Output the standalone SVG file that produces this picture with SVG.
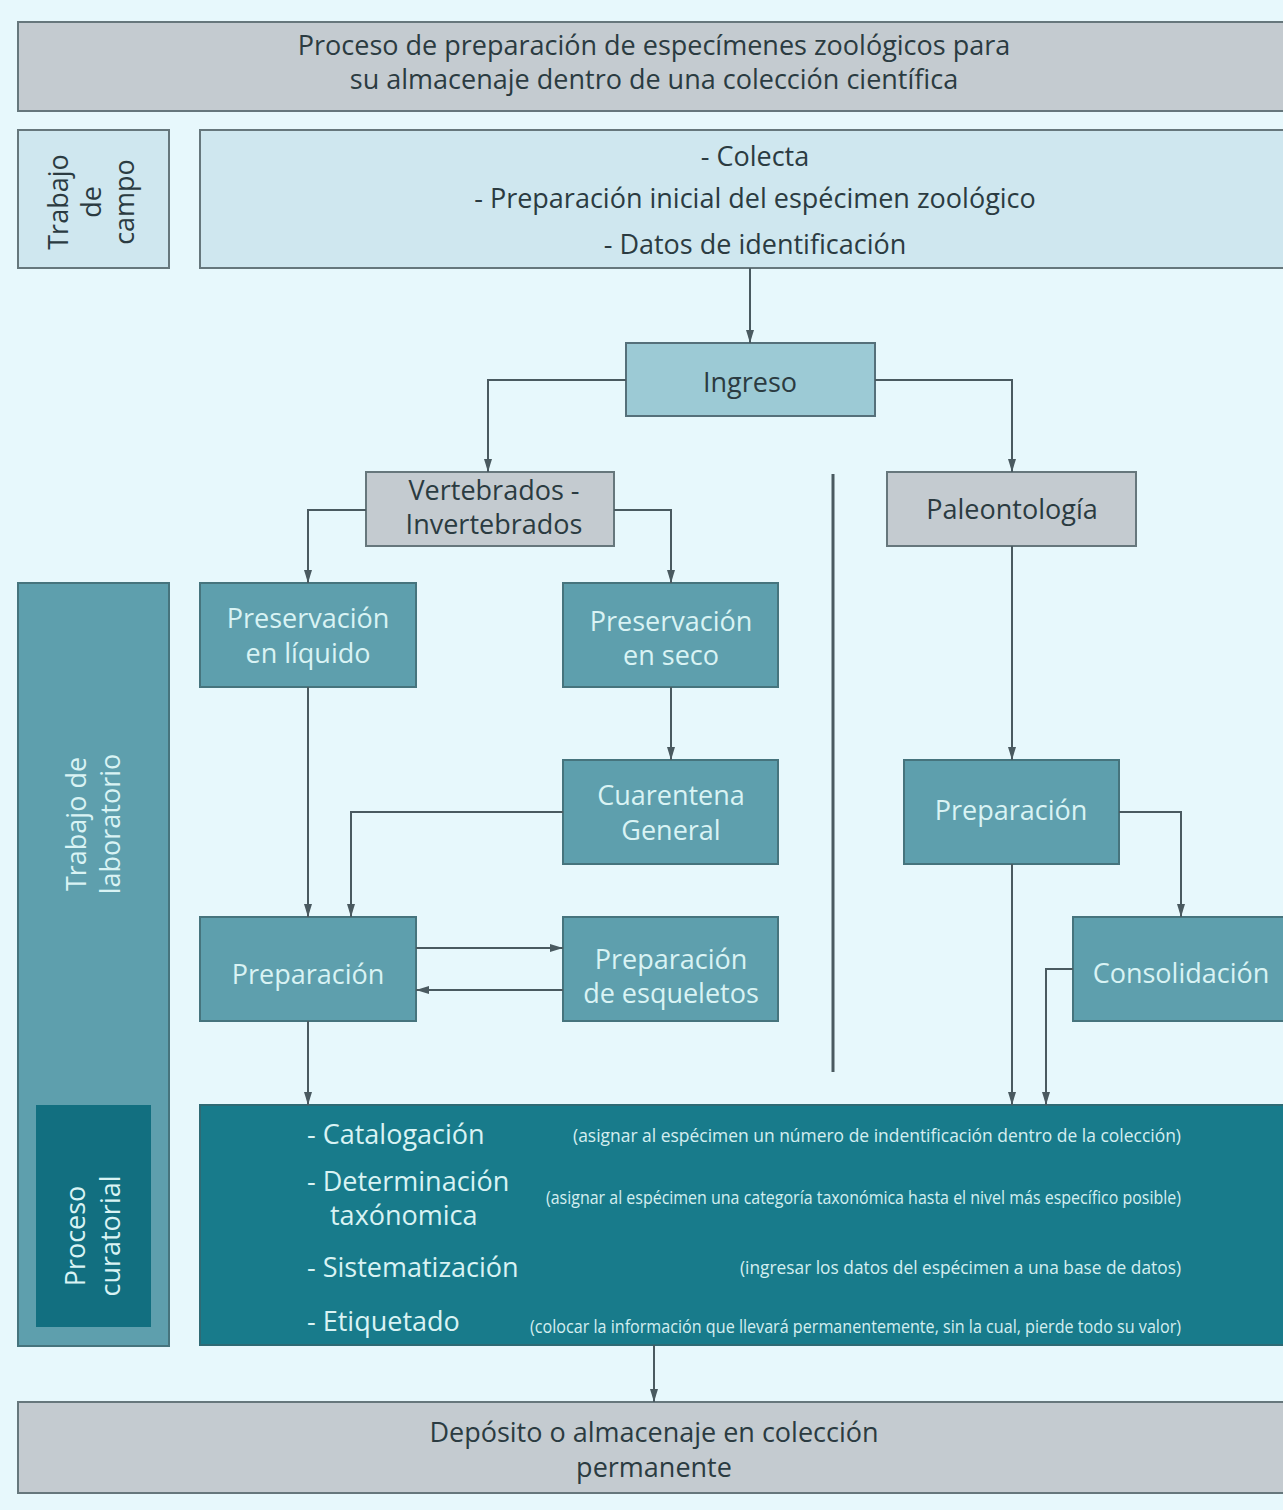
<svg xmlns="http://www.w3.org/2000/svg" width="1283" height="1510" viewBox="0 0 1283 1510">
  <defs>
    <marker id="arrow" markerUnits="userSpaceOnUse" markerWidth="14" markerHeight="10" refX="13" refY="4" orient="auto">
      <path d="M0,0 L13,4 L0,8 z" fill="#4a5a60"/>
    </marker>
    <style>
      text { font-family: "Open Sans", "Noto Sans", "Liberation Sans", sans-serif; font-size: 27px; }
      .gray { fill: #c4cbd0; stroke: #66777c; stroke-width: 2; }
      .pale { fill: #cfe7ef; stroke: #66777c; stroke-width: 2; }
      .ingreso { fill: #9ccad5; stroke: #55707a; stroke-width: 2; }
      .mid { fill: #5e9fad; stroke: #46747d; stroke-width: 2; }
      .deep { fill: #187b8b; stroke: #2f6a74; stroke-width: 2; }
      .deeper { fill: #126f80; }
      .dark { fill: #2b3b41; }
      .light { fill: #d9f3f4; }
      .c { text-anchor: middle; }
      .desc { font-size: 18px; fill: #d4eef0; text-anchor: end; }
      .link { fill: none; stroke: #4a5a60; stroke-width: 2; }
    </style>
  </defs>

  <rect x="0" y="0" width="1283" height="1510" fill="#e7f8fc"/>

  <!-- heading -->
  <g id="title">
    <rect class="gray" x="18" y="22" width="1275" height="89"/>
    <text class="dark c" x="654" y="55">Proceso de preparación de especímenes zoológicos para</text>
    <text class="dark c" x="654" y="89">su almacenaje dentro de una colección científica</text>
  </g>

  <!-- field work -->
  <g id="lane-campo">
    <rect class="pale" x="18" y="130" width="151" height="138"/>
    <g transform="translate(94,202) rotate(-90)">
      <text class="dark c" x="0" y="-26">Trabajo</text>
      <text class="dark c" x="0" y="7">de</text>
      <text class="dark c" x="0" y="40">campo</text>
    </g>
  </g>
  <g id="campo">
    <rect class="pale" x="200" y="130" width="1093" height="138"/>
    <text class="dark c" x="755" y="166">- Colecta</text>
    <text class="dark c" x="755" y="208">- Preparación inicial del espécimen zoológico</text>
    <text class="dark c" x="755" y="254">- Datos de identificación</text>
  </g>

  <!-- laboratory lane -->
  <g id="lane-laboratorio">
    <rect class="mid" x="18" y="583" width="151" height="763"/>
    <g transform="translate(94,824) rotate(-90)">
      <text class="light c" x="0" y="-8">Trabajo de</text>
      <text class="light c" x="0" y="26">laboratorio</text>
    </g>
  </g>
  <g id="lane-curatorial">
    <rect class="deeper" x="36" y="1105" width="115" height="222"/>
    <g transform="translate(94,1236) rotate(-90)">
      <text class="light c" x="0" y="-9">Proceso</text>
      <text class="light c" x="0" y="26">curatorial</text>
    </g>
  </g>

  <g id="ingreso">
    <rect class="ingreso" x="626" y="343" width="249" height="73"/>
    <text class="dark c" x="750" y="392">Ingreso</text>
  </g>
  <g id="vertebrados">
    <rect class="gray" x="366" y="472" width="248" height="74"/>
    <text class="dark c" x="494" y="500">Vertebrados -</text>
    <text class="dark c" x="494" y="534">Invertebrados</text>
  </g>
  <g id="paleontologia">
    <rect class="gray" x="887" y="472" width="249" height="74"/>
    <text class="dark c" x="1012" y="519">Paleontología</text>
  </g>
  <g id="pres-liquido">
    <rect class="mid" x="200" y="583" width="216" height="104"/>
    <text class="light c" x="308" y="628">Preservación</text>
    <text class="light c" x="308" y="663">en líquido</text>
  </g>
  <g id="pres-seco">
    <rect class="mid" x="563" y="583" width="215" height="104"/>
    <text class="light c" x="671" y="631">Preservación</text>
    <text class="light c" x="671" y="665">en seco</text>
  </g>
  <g id="cuarentena">
    <rect class="mid" x="563" y="760" width="215" height="104"/>
    <text class="light c" x="671" y="805">Cuarentena</text>
    <text class="light c" x="671" y="840">General</text>
  </g>
  <g id="preparacion">
    <rect class="mid" x="200" y="917" width="216" height="104"/>
    <text class="light c" x="308" y="984">Preparación</text>
  </g>
  <g id="esqueletos">
    <rect class="mid" x="563" y="917" width="215" height="104"/>
    <text class="light c" x="671" y="969">Preparación</text>
    <text class="light c" x="671" y="1003">de esqueletos</text>
  </g>
  <g id="preparacion-paleo">
    <rect class="mid" x="904" y="760" width="215" height="104"/>
    <text class="light c" x="1011" y="820">Preparación</text>
  </g>
  <g id="consolidacion">
    <rect class="mid" x="1073" y="917" width="220" height="104"/>
    <text class="light c" x="1181" y="983">Consolidación</text>
  </g>

  <g id="curatorial">
    <rect class="deep" x="200" y="1105" width="1093" height="240"/>
    <text class="light" x="307" y="1144">- Catalogación</text>
    <text class="light" x="307" y="1191">- Determinación</text>
    <text class="light" x="330" y="1225">taxónomica</text>
    <text class="light" x="307" y="1277">- Sistematización</text>
    <text class="light" x="307" y="1331">- Etiquetado</text>
    <text class="desc" x="1181" y="1142" textLength="608" lengthAdjust="spacingAndGlyphs">(asignar al espécimen un número de indentificación dentro de la colección)</text>
    <text class="desc" x="1181" y="1204" textLength="635" lengthAdjust="spacingAndGlyphs">(asignar al espécimen una categoría taxonómica hasta el nivel más específico posible)</text>
    <text class="desc" x="1181" y="1274" textLength="441" lengthAdjust="spacingAndGlyphs">(ingresar los datos del espécimen a una base de datos)</text>
    <text class="desc" x="1181" y="1333" textLength="651" lengthAdjust="spacingAndGlyphs">(colocar la información que llevará permanentemente, sin la cual, pierde todo su valor)</text>
  </g>

  <g id="deposito">
    <rect class="gray" x="18" y="1402" width="1275" height="91"/>
    <text class="dark c" x="654" y="1442">Depósito o almacenaje en colección</text>
    <text class="dark c" x="654" y="1477">permanente</text>
  </g>

  <!-- connectors -->
  <g id="connectors">
    <path class="link" d="M750,268 V343" marker-end="url(#arrow)"/>
    <path class="link" d="M626,380 H488 V472" marker-end="url(#arrow)"/>
    <path class="link" d="M875,380 H1012 V472" marker-end="url(#arrow)"/>
    <path class="link" d="M366,510 H308 V583" marker-end="url(#arrow)"/>
    <path class="link" d="M614,510 H671 V583" marker-end="url(#arrow)"/>
    <path class="link" d="M671,687 V760" marker-end="url(#arrow)"/>
    <path class="link" d="M308,687 V917" marker-end="url(#arrow)"/>
    <path class="link" d="M563,812 H351 V917" marker-end="url(#arrow)"/>
    <path class="link" d="M416,948 H563" marker-end="url(#arrow)"/>
    <path class="link" d="M563,990 H416" marker-end="url(#arrow)"/>
    <path class="link" d="M308,1021 V1105" marker-end="url(#arrow)"/>
    <path class="link" d="M1012,546 V760" marker-end="url(#arrow)"/>
    <path class="link" d="M1119,812 H1181 V917" marker-end="url(#arrow)"/>
    <path class="link" d="M1012,864 V1105" marker-end="url(#arrow)"/>
    <path class="link" d="M1073,969 H1046 V1105" marker-end="url(#arrow)"/>
    <path class="link" d="M654,1345 V1402" marker-end="url(#arrow)"/>
    <path d="M833,474 V1072" fill="none" stroke="#4a5a60" stroke-width="3"/>
  </g>
</svg>
